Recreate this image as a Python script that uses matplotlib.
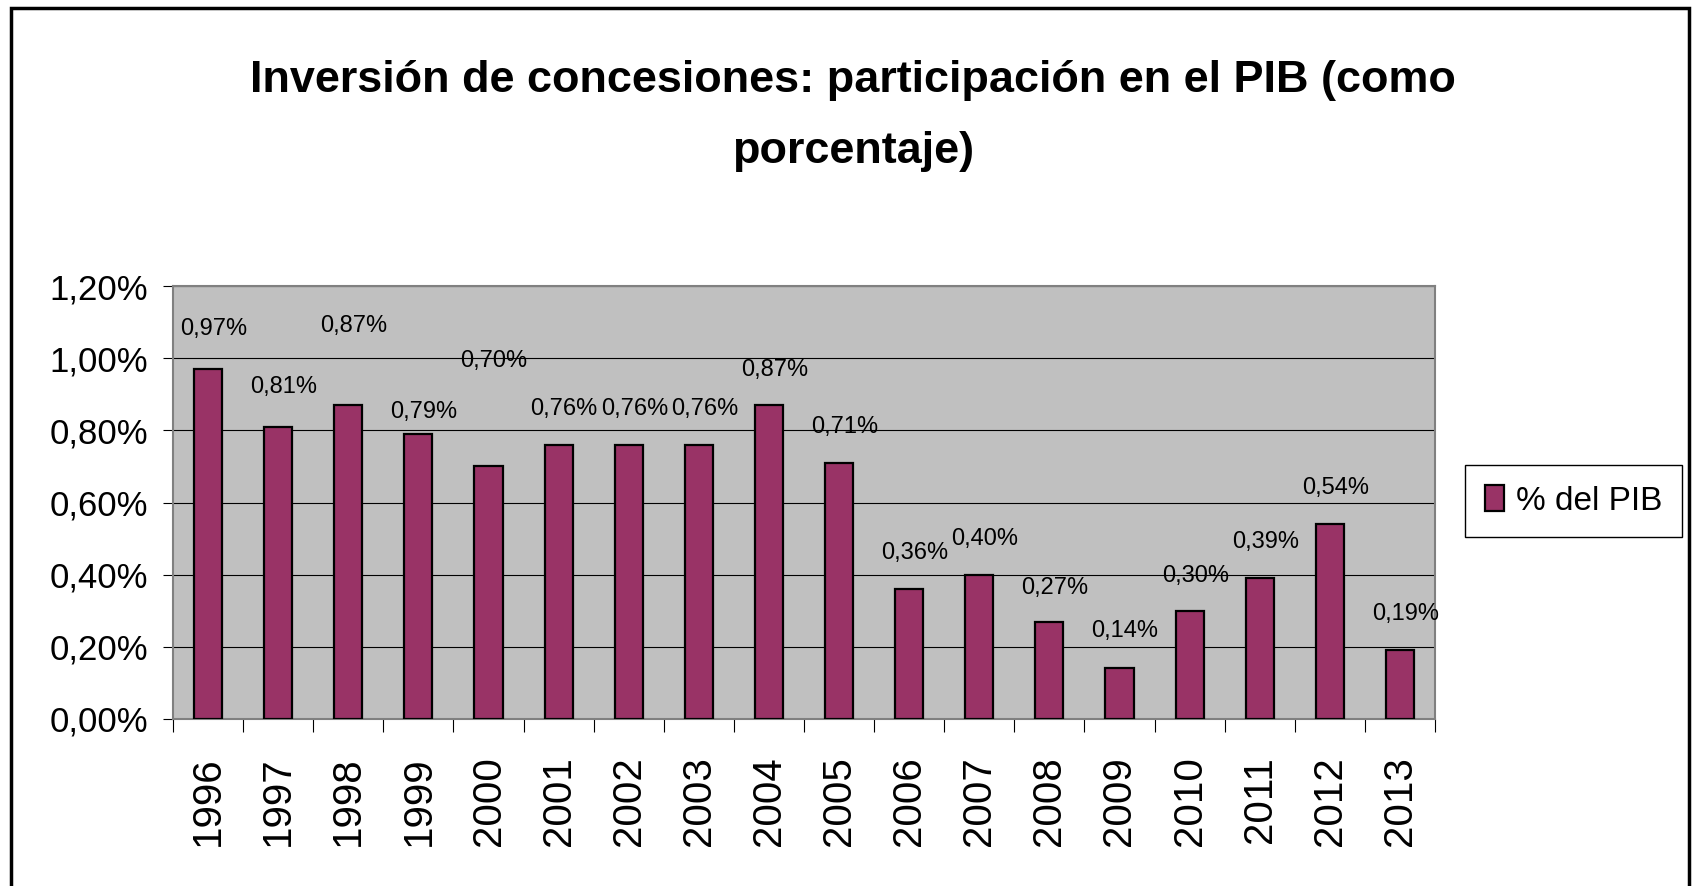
import numpy as np
import matplotlib
matplotlib.use("Agg")
import matplotlib.pyplot as plt
from matplotlib.patches import Rectangle

# ---- data ----
years = ["1996", "1997", "1998", "1999", "2000", "2001", "2002", "2003", "2004",
         "2005", "2006", "2007", "2008", "2009", "2010", "2011", "2012", "2013"]
values = [0.97, 0.81, 0.87, 0.79, 0.70, 0.76, 0.76, 0.76, 0.87,
          0.71, 0.36, 0.40, 0.27, 0.14, 0.30, 0.39, 0.54, 0.19]
value_labels = ["0,97%", "0,81%", "0,87%", "0,79%", "0,70%", "0,76%", "0,76%", "0,76%", "0,87%",
                "0,71%", "0,36%", "0,40%", "0,27%", "0,14%", "0,30%", "0,39%", "0,54%", "0,19%"]
y_ticks = [0.0, 0.2, 0.4, 0.6, 0.8, 1.0, 1.2]
y_tick_labels = ["0,00%", "0,20%", "0,40%", "0,60%", "0,80%", "1,00%", "1,20%"]
series_name = "% del PIB"
title_line1 = "Inversión de concesiones: participación en el PIB (como"
title_line2 = "porcentaje)"

# label placement (how far above each bar its label sits, in axis units)
label_lift = [0.11, 0.11, 0.22, 0.062, 0.293, 0.10, 0.10, 0.10, 0.097,
              0.10, 0.10, 0.10, 0.092, 0.105, 0.095, 0.10, 0.10, 0.10]

FONT = ["Liberation Sans", "DejaVu Sans"]
plt.rcParams["font.family"] = FONT

W, H = 1692, 886
fig = plt.figure(figsize=(W / 100, H / 100), dpi=100)
fig.patch.set_facecolor("white")

ax = fig.add_axes([173 / W, 1 - 719 / H, (1435 - 173) / W, (719 - 286) / H])
x = np.arange(len(years))
bars = ax.bar(x, values, width=0.4, color="#993366", edgecolor="black",
              linewidth=1.6, zorder=3, label=series_name)

ax.set_xlim(-0.5, len(years) - 0.5)
ax.set_ylim(0, 1.2)
ax.set_facecolor("#C0C0C0")
ax.set_axisbelow(True)
ax.yaxis.grid(True, color="black", linewidth=0.8)

ax.set_yticks(y_ticks)
ax.set_yticklabels(y_tick_labels)
ax.tick_params(axis="y", direction="out", length=7, width=0.8, pad=11, labelsize=25)

ax.set_xticks(x)
ax.set_xticklabels(years, rotation=90)
ax.tick_params(axis="x", which="major", length=0, pad=27, labelsize=29)
ax.set_xticks(np.arange(-0.5, len(years), 1), minor=True)
ax.tick_params(axis="x", which="minor", direction="out", length=9, width=0.8)

for s in ax.spines.values():
    s.set_color("#808080")
    s.set_linewidth(1.5)

for xi, v, lab, lift in zip(x, values, value_labels, label_lift):
    ax.text(xi + 0.08, v + lift, lab, ha="center", va="center", fontsize=17,
            color="black", zorder=4)

# legend
leg = ax.legend(handles=[bars], labels=[series_name], loc="center left",
                bbox_to_anchor=(1465 / W, 1 - 501 / H), bbox_transform=fig.transFigure,
                frameon=True, fancybox=False, edgecolor="black", framealpha=1,
                borderaxespad=0, borderpad=0.6, handlelength=0.58, handleheight=0.8,
                handletextpad=0.35, prop={"size": 24})
leg.get_frame().set_linewidth(1.0)

# title (two lines), sized to the reference width
t1 = fig.text(853 / W, 1 - 91.7 / H, title_line1, ha="center", va="baseline",
              fontsize=40, fontweight="bold")
t2 = fig.text(853 / W, 1 - 163 / H, title_line2, ha="center", va="baseline",
              fontsize=40, fontweight="bold")
fig.canvas.draw()
w = t1.get_window_extent(renderer=fig.canvas.get_renderer()).width
fs = 40 * 1205 / w
t1.set_fontsize(fs)
t2.set_fontsize(fs)

# outer chart border
fig.patches.append(Rectangle((11 / W, -0.05), (1689 - 11) / W, 1 - 7.5 / H + 0.05,
                             transform=fig.transFigure, fill=False, edgecolor="black",
                             linewidth=2.5, clip_on=False))

fig.savefig("out.png", dpi=100)
